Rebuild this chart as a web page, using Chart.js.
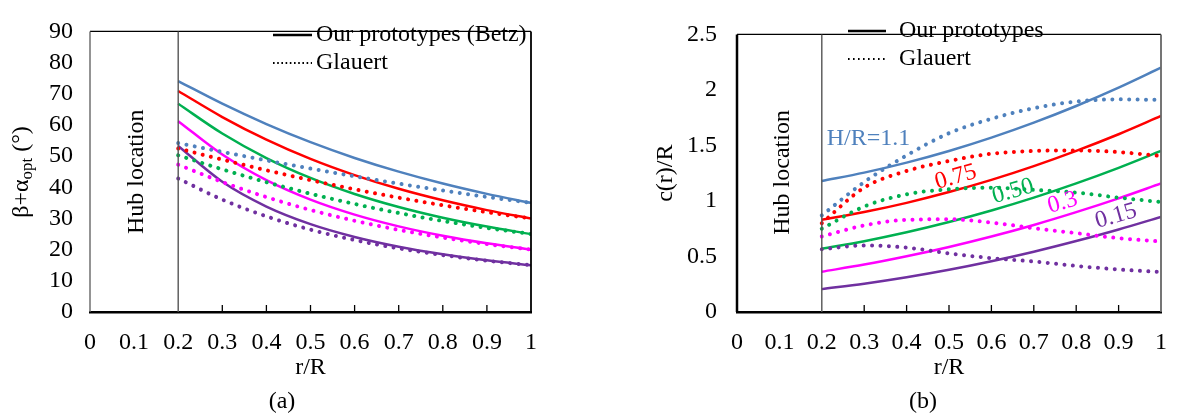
<!DOCTYPE html>
<html>
<head>
<meta charset="utf-8">
<script src="https://cdn.jsdelivr.net/npm/chart.js@4.4.0/dist/chart.umd.min.js"></script>
<style>
  body { margin: 0; background: #fff; width: 1183px; height: 415px; overflow: hidden; position: relative; }
  #chartA { position: absolute; left: 0; top: 0; }
  #chartB { position: absolute; left: 590px; top: 0; }
</style>
</head>
<body>
<canvas id="chartA" width="560" height="415"></canvas>
<canvas id="chartB" width="593" height="415"></canvas>
<script>
// r/R positions along the blade
const rPos = [0.2, 0.3, 0.4, 0.5, 0.6, 0.7, 0.8, 0.9, 1.0]

// (a) beta + alpha_opt (deg), our prototypes (Betz)
const angleOurs11 = [74.06, 66.81, 60.27, 54.46, 49.40, 45.01, 41.19, 37.88, 35.0]
const angleOurs075 = [70.89, 62.53, 55.28, 49.10, 43.90, 39.51, 35.82, 32.68, 30.0]
const angleOurs050 = [66.79, 57.24, 49.38, 43.00, 37.85, 33.67, 30.23, 27.39, 25.0]
const angleOurs03 = [61.21, 50.50, 42.30, 36.05, 31.24, 27.47, 24.46, 22.02, 20.0]
const angleOurs015 = [53.26, 41.76, 33.82, 28.19, 24.07, 20.94, 18.52, 16.58, 15.0]
// (a) Glauert
const angleGl11 = [54.18, 51.36, 48.63, 46.01, 43.52, 41.17, 38.97, 36.91, 35.0]
const angleGl075 = [52.46, 48.87, 45.47, 42.29, 39.36, 36.67, 34.23, 32.01, 30.0]
const angleGl050 = [50.26, 45.76, 41.65, 37.94, 34.65, 31.75, 29.20, 26.97, 25.0]
const angleGl03 = [47.26, 41.69, 36.85, 32.73, 29.27, 26.34, 23.88, 21.79, 20.0]
const angleGl015 = [42.81, 36.05, 30.67, 26.42, 23.08, 20.41, 18.25, 16.47, 15.0]

// (b) c(r)/R, our prototypes
const chordOurs11 = [1.18, 1.255, 1.345, 1.45, 1.57, 1.705, 1.855, 2.02, 2.20]
const chordOurs075 = [0.83, 0.90, 0.983, 1.08, 1.19, 1.314, 1.451, 1.601, 1.765]
const chordOurs050 = [0.57, 0.638, 0.718, 0.81, 0.914, 1.03, 1.158, 1.298, 1.45]
const chordOurs03 = [0.363, 0.427, 0.502, 0.586, 0.68, 0.784, 0.899, 1.023, 1.157]
const chordOurs015 = [0.206, 0.255, 0.313, 0.38, 0.457, 0.543, 0.639, 0.743, 0.857]
// (b) Glauert
const chordGl11 = [0.87, 1.17, 1.41, 1.61, 1.74, 1.835, 1.895, 1.915, 1.91]
const chordGl075 = [0.80, 1.12, 1.27, 1.36, 1.425, 1.45, 1.455, 1.44, 1.405]
const chordGl050 = [0.75, 0.95, 1.06, 1.105, 1.12, 1.10, 1.075, 1.03, 0.99]
const chordGl03 = [0.68, 0.78, 0.83, 0.835, 0.805, 0.755, 0.71, 0.665, 0.635]
const chordGl015 = [0.565, 0.60, 0.58, 0.528, 0.485, 0.455, 0.415, 0.383, 0.36]

// ticks
const xTickValues = [0, 0.1, 0.2, 0.3, 0.4, 0.5, 0.6, 0.7, 0.8, 0.9, 1]
const xTickLabels = ["0", "0.1", "0.2", "0.3", "0.4", "0.5", "0.6", "0.7", "0.8", "0.9", "1"]
const xInnerTicks = [0.3, 0.4, 0.5, 0.6, 0.7, 0.8, 0.9]
const yTickValuesA = [0, 10, 20, 30, 40, 50, 60, 70, 80, 90]
const yTickLabelsA = ["0", "10", "20", "30", "40", "50", "60", "70", "80", "90"]
const yTickValuesB = [0, 0.5, 1, 1.5, 2, 2.5]
const yTickLabelsB = ["0", "0.5", "1", "1.5", "2", "2.5"]

// H/R labels in (b)
const hubRatioLabels = ["H/R=1.1", "0.75", "0.50", "0.3", "0.15"]
const hubEdge = 0.2

const colores = ["#4F81BD", "#FF0000", "#00B050", "#FF00FF", "#7030A0"]
const labelPosR = [0.31, 0.516, 0.651, 0.768, 0.894]
const labelPosC = [1.557, 1.214, 1.086, 0.983, 0.863]
const labelRot = [0, -16, -16, -16, -16]

const FONT = '"Liberation Serif", "Times New Roman", serif'

function pts(vals) {
  return rPos.map((r, i) => ({ x: r, y: vals[i] }))
}
function solid(vals, c) {
  return { data: pts(vals), borderColor: c, borderWidth: 2.5, pointRadius: 0, cubicInterpolationMode: "monotone", fill: false }
}
function dotted(vals, c) {
  return { data: pts(vals), borderColor: c, borderWidth: 4, borderDash: [0.01, 8.4], borderCapStyle: "round", pointRadius: 0, cubicInterpolationMode: "monotone", fill: false }
}

function line(ctx, x1, y1, x2, y2, color, w, dash) {
  ctx.save()
  ctx.strokeStyle = color
  ctx.lineWidth = w
  ctx.setLineDash(dash || [])
  ctx.beginPath()
  ctx.moveTo(x1, y1)
  ctx.lineTo(x2, y2)
  ctx.stroke()
  ctx.restore()
}

function decor(o) {
  return {
    id: "decor",
    afterDatasetsDraw(chart) {
      const { ctx, chartArea: a, scales } = chart
      const x = scales.x, y = scales.y
      ctx.save()
      // frame
      line(ctx, a.left, a.top, a.right, a.top, "#000", 1.3)
      line(ctx, a.right, a.top, a.right, a.bottom, o.rightColor, 1.8)
      line(ctx, a.left, a.top, a.left, a.bottom, o.leftColor, o.leftWidth)
      // hub edge
      const hx = x.getPixelForValue(hubEdge)
      line(ctx, hx, a.top, hx, a.bottom, "#555", 1.4)
      // inner tick marks
      xInnerTicks.forEach(v => {
        const px = x.getPixelForValue(v)
        line(ctx, px, a.bottom, px, a.bottom - 7, "#000", 1.3)
      })
      ctx.fillStyle = "#000"
      ctx.font = "24px " + FONT
      ctx.textAlign = "center"
      ctx.textBaseline = "middle"
      // hub location text
      ctx.save()
      ctx.translate(x.getPixelForValue(0.1) + 3, y.getPixelForValue(o.hubTextV))
      ctx.rotate(-Math.PI / 2)
      ctx.fillText("Hub location", 0, 0)
      ctx.restore()
      // legend
      line(ctx, o.legX1, o.legY1, o.legX2, o.legY1, "#000", 2.5)
      line(ctx, o.legX1, o.legY2, o.legX2, o.legY2, "#000", 2.2, o.legDash)
      ctx.textAlign = "left"
      ctx.fillText(o.legText1, o.legTextX, o.legY1)
      ctx.fillText("Glauert", o.legTextX, o.legY2)
      // caption
      ctx.textAlign = "center"
      ctx.fillText(o.caption, o.captionX, 402)
      if (o.extra) o.extra(chart)
      ctx.restore()
    }
  }
}

function axisX() {
  return {
    type: "linear", min: 0, max: 1,
    afterBuildTicks: s => { s.ticks = xTickValues.map(v => ({ value: v })) },
    afterFit: s => { s.height = 103 },
    grid: { display: false, drawTicks: false },
    border: { display: true, color: "#000", width: 2.5 },
    ticks: { color: "#000", font: { family: FONT, size: 24 }, padding: 16, maxRotation: 0, autoSkip: false,
      callback: (v, i) => xTickLabels[i] },
    title: { display: true, text: "r/R", color: "#000", font: { family: FONT, size: 24 }, padding: { bottom: 33 } }
  }
}

// (a) angle chart
new Chart(document.getElementById("chartA"), {
  type: "line",
  data: {
    datasets: [
      dotted(angleGl11, colores[0]), dotted(angleGl075, colores[1]), dotted(angleGl050, colores[2]),
      dotted(angleGl03, colores[3]), dotted(angleGl015, colores[4]),
      solid(angleOurs11, colores[0]), solid(angleOurs075, colores[1]), solid(angleOurs050, colores[2]),
      solid(angleOurs03, colores[3]), solid(angleOurs015, colores[4])
    ]
  },
  options: {
    responsive: false, animation: false, devicePixelRatio: 1,
    layout: { padding: { left: 0, top: 20, right: 29, bottom: 0 } },
    plugins: { legend: { display: false }, tooltip: { enabled: false } },
    scales: {
      x: axisX(),
      y: {
        type: "linear", min: 0, max: 90,
        afterBuildTicks: s => { s.ticks = yTickValuesA.map(v => ({ value: v })) },
        afterFit: s => { s.width = 90 },
        grid: { display: false, drawTicks: false },
        border: { display: false },
        ticks: { color: "#000", font: { family: FONT, size: 24 }, padding: 17, autoSkip: false, callback: (v, i) => yTickLabelsA[i] }
      }
    }
  },
  plugins: [decor({
    rightColor: "#000", leftColor: "#666", leftWidth: 1.4, hubTextV: 45,
    legX1: 273, legX2: 312, legY1: 35, legY2: 63, legDash: [1.6, 2.6], legTextX: 316,
    legText1: "Our prototypes (Betz)", caption: "(a)", captionX: 282,
    extra: chart => {
      // y axis title with subscript
      const ctx = chart.ctx
      ctx.save()
      ctx.translate(22, 172)
      ctx.rotate(-Math.PI / 2)
      ctx.fillStyle = "#000"
      ctx.textBaseline = "middle"
      ctx.textAlign = "left"
      const big = "24px " + FONT, small = "17px " + FONT
      ctx.font = big
      const w1 = ctx.measureText("\u03b2+\u03b1").width
      const w3 = ctx.measureText(" (\u00b0)").width
      ctx.font = small
      const w2 = ctx.measureText("opt").width
      let sx = -(w1 + w2 + w3) / 2
      ctx.font = big
      ctx.fillText("\u03b2+\u03b1", sx, 0)
      ctx.font = small
      ctx.fillText("opt", sx + w1, 6)
      ctx.font = big
      ctx.fillText(" (\u00b0)", sx + w1 + w2, 0)
      ctx.restore()
    }
  })]
})

// (b) chord chart
new Chart(document.getElementById("chartB"), {
  type: "line",
  data: {
    datasets: [
      dotted(chordGl11, colores[0]), dotted(chordGl075, colores[1]), dotted(chordGl050, colores[2]),
      dotted(chordGl03, colores[3]), dotted(chordGl015, colores[4]),
      solid(chordOurs11, colores[0]), solid(chordOurs075, colores[1]), solid(chordOurs050, colores[2]),
      solid(chordOurs03, colores[3]), solid(chordOurs015, colores[4])
    ]
  },
  options: {
    responsive: false, animation: false, devicePixelRatio: 1,
    layout: { padding: { left: 0, top: 20, right: 10, bottom: 0 } },
    plugins: { legend: { display: false }, tooltip: { enabled: false } },
    scales: {
      x: axisX(),
      y: {
        type: "linear", min: 0, max: 2.5,
        afterBuildTicks: s => { s.ticks = yTickValuesB.map(v => ({ value: v })) },
        afterFit: s => { s.width = 147 },
        grid: { display: false, drawTicks: false },
        border: { display: false },
        ticks: { color: "#000", font: { family: FONT, size: 24 }, padding: 20, autoSkip: false, callback: (v, i) => yTickLabelsB[i] },
        title: { display: true, text: "c(r)/R", color: "#000", font: { family: FONT, size: 24 }, padding: { top: 61 } }
      }
    }
  },
  plugins: [decor({
    rightColor: "#666", leftColor: "#000", leftWidth: 2.5, hubTextV: 1.257,
    legX1: 258, legX2: 296, legY1: 31, legY2: 59, legDash: [1.6, 3.4], legTextX: 309,
    legText1: "Our prototypes", caption: "(b)", captionX: 333,
    extra: chart => {
      const { ctx, scales: { x, y } } = chart
      ctx.save()
      ctx.font = "24px " + FONT
      ctx.textAlign = "center"
      ctx.textBaseline = "middle"
      hubRatioLabels.forEach((t, i) => {
        ctx.save()
        ctx.translate(x.getPixelForValue(labelPosR[i]), y.getPixelForValue(labelPosC[i]))
        ctx.rotate(labelRot[i] * Math.PI / 180)
        ctx.fillStyle = colores[i]
        ctx.fillText(t, 0, 0)
        ctx.restore()
      })
      ctx.restore()
    }
  })]
})
</script>
</body>
</html>
